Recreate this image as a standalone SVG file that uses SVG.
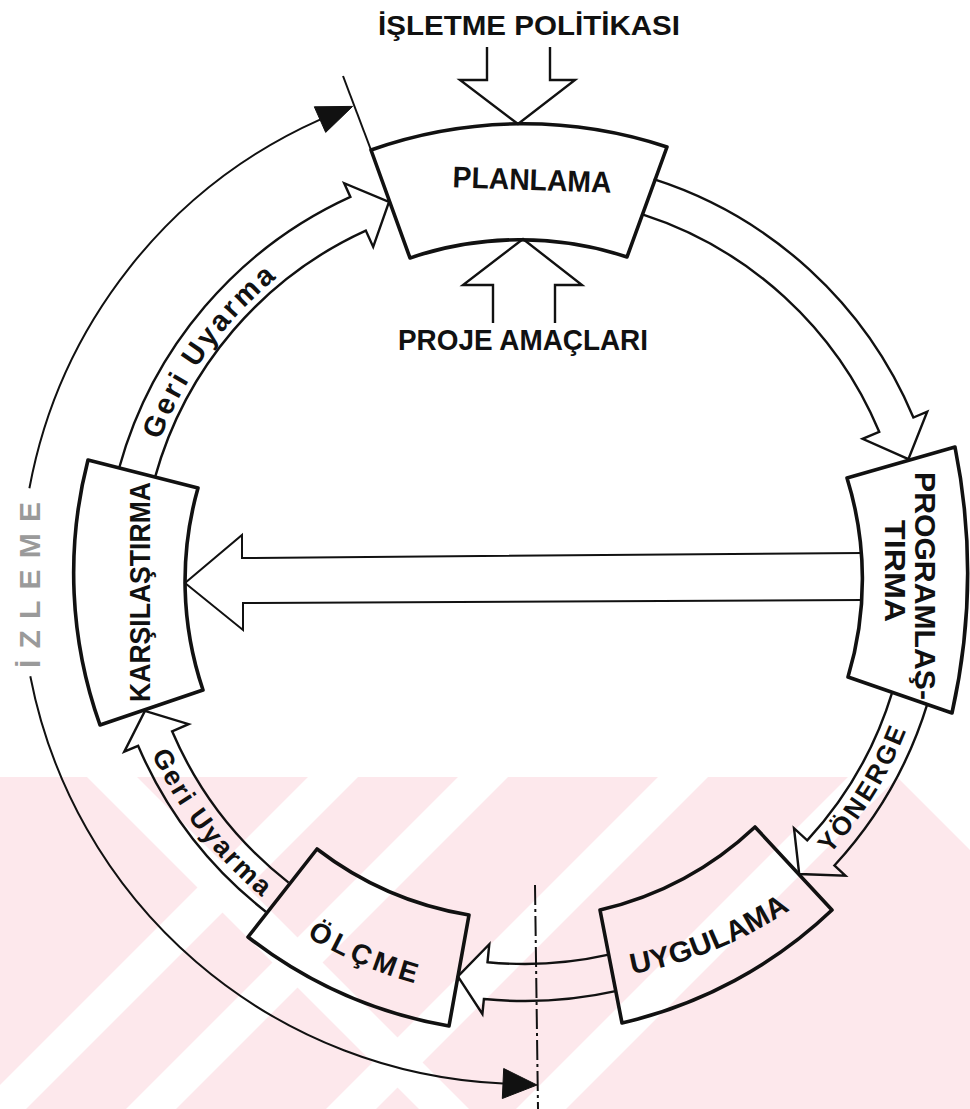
<svg xmlns="http://www.w3.org/2000/svg" width="970" height="1109" viewBox="0 0 970 1109">
  <style>
    .box{fill:none;stroke:#111;stroke-width:3.6;stroke-linejoin:round}
    .band{fill:none;stroke:#111;stroke-width:2.4;stroke-linejoin:miter}
    .thin{fill:none;stroke:#111;stroke-width:2}
    .head{fill:#111;stroke:#111;stroke-width:1}
    .lbl{font-family:"Liberation Sans",Arial,sans-serif;font-weight:bold;fill:#111}
    .faint{fill:#9a9a9a}
    .wm{fill:#fde8ec}
    .gap{fill:#fff}
  </style>
  <defs>
    <!-- baselines for the curved labels, all around the ring centre (525,580) -->
    <path id="arc-geri-top" d="M158.8,443.1 A391,391 0 0 1 289.7,267.7"/>
    <path id="arc-geri-low" d="M151.6,754.1 A412,412 0 0 0 265.7,900.2"/>
    <path id="arc-yonerge" d="M829.7,854.3 A410,410 0 0 0 909,723.6"/>
    <path id="arc-olcme" d="M306.6,936.4 A418,418 0 0 0 423.9,985.6"/>
    <path id="arc-uygulama" d="M632,974 A420,420 0 0 0 800,903"/>
    <clipPath id="wm-clip">
      <polygon points="0,777 897,777 970,850 970,1109 0,1109"/>
    </clipPath>
  </defs>

  <rect width="970" height="1109" fill="#fff"/>

  <!-- pale diagonal stripes across the lower part of the sheet -->
  <g id="watermark" clip-path="url(#wm-clip)">
    <rect class="wm" x="0" y="777" width="970" height="332"/>
    <polygon class="gap" points="308,777 358,777 26,1109 -24,1109"/>
    <polygon class="gap" points="458,777 508,777 176,1109 126,1109"/>
    <polygon class="gap" points="658,777 708,777 376,1109 326,1109"/>
    <polygon class="gap" points="848,777 898,777 566,1109 516,1109"/>
    <polygon class="gap" points="87,777 137,777 469,1109 419,1109"/>
  </g>

  <!-- connectors: ring bands, the cross arrow, the input arrows and the monitoring loop -->
  <g id="connectors">
    <!-- KARŞILAŞTIRMA -> PLANLAMA -->
    <path class="band" d="M119.3,467.5 A421,421 0 0 1 350.4,196.9 L344.2,183.2 L389,202 L373.2,246.9 L365.8,230.6 A384,384 0 0 0 155,477.4"/>
    <!-- PLANLAMA -> PROGRAMLAŞTIRMA -->
    <path class="band" d="M653.7,179.2 A421,421 0 0 1 913.4,417.5 L927.2,411.7 L908.4,459.1 L862.6,438.8 L879.2,431.8 A384,384 0 0 0 642.4,214.4"/>
    <!-- PROGRAMLAŞTIRMA -> UYGULAMA -->
    <path class="band" d="M927.6,703.1 A421,421 0 0 1 834.4,865.5 L845.4,875.7 L799.2,874 L794,828.2 L807.2,840.4 A384,384 0 0 0 892.2,692.3"/>
    <!-- UYGULAMA -> ÖLÇME -->
    <path class="band" d="M616.8,990.9 A421,421 0 0 1 483.9,999 L482.4,1013.9 L457.9,976.4 L489.3,944.2 L487.5,962.2 A384,384 0 0 0 608.8,954.7"/>
    <!-- ÖLÇME -> KARŞILAŞTIRMA -->
    <path class="band" d="M265.8,911.7 A421,421 0 0 1 138.1,745.8 L124.3,751.7 L144.9,710.9 L188.6,724.2 L172.1,731.3 A384,384 0 0 0 288.6,882.6"/>
    <!-- PROGRAMLAŞTIRMA -> KARŞILAŞTIRMA -->
    <path class="thin" d="M863,553 L242,558 L242,535 L185,583 L243,630 L243,603 L863,600"/>
    <!-- input arrows into PLANLAMA -->
    <path class="band" d="M487,47 L487,80 L460,80 L518,124 L575,80 L550,80 L550,47"/>
    <path class="band" d="M493,323 L493,285 L463,285 L523,239 L582,285 L555,285 L555,323"/>
    <!-- monitoring loop -->
    <path class="thin" d="M320,119.6 A504,504 0 0 0 29.4,488.2"/>
    <path class="thin" d="M30.3,676.2 A504,504 0 0 0 503,1083.5"/>
    <polygon class="head" points="314.3,106.8 352.6,106.4 325.7,132.4"/>
    <polygon class="head" points="503.7,1068.5 537,1085 502.3,1098.5"/>
    <line class="thin" x1="343" y1="76" x2="371" y2="150"/>
    <line class="thin" x1="535" y1="885" x2="538" y2="1109" stroke-dasharray="20 4 3 4"/>
  </g>

  <g id="node-planlama">
    <path class="box" d="M371,150 A456,456 0 0 1 667,147 L627,257 A341,341 0 0 0 410,258 Z"/>
    <text class="lbl" x="532" y="190" font-size="30" text-anchor="middle" textLength="159" lengthAdjust="spacingAndGlyphs" transform="rotate(2 532 182)">PLANLAMA</text>
  </g>

  <g id="node-programlastirma">
    <path class="box" d="M847,478 L955,447 A640,640 0 0 1 952,713 L848,677 A340,340 0 0 0 847,478 Z"/>
    <text class="lbl" font-size="30" transform="translate(915,472) rotate(90)" textLength="228" lengthAdjust="spacingAndGlyphs">PROGRAMLAŞ-</text>
    <text class="lbl" font-size="30" transform="translate(885,520) rotate(90)" textLength="102" lengthAdjust="spacingAndGlyphs">TIRMA</text>
  </g>

  <g id="node-uygulama">
    <path class="box" d="M600,910 A338,338 0 0 0 755,827 L832,910 A452,452 0 0 1 622,1023 Z"/>
    <text class="lbl" font-size="29"><textPath href="#arc-uygulama" textLength="172" lengthAdjust="spacingAndGlyphs">UYGULAMA</textPath></text>
  </g>

  <g id="node-olcme">
    <path class="box" d="M317,849 A340,340 0 0 0 469,915 L449,1026 A452,452 0 0 1 248,937 Z"/>
    <text class="lbl" font-size="28"><textPath href="#arc-olcme" textLength="118" lengthAdjust="spacing">ÖLÇME</textPath></text>
  </g>

  <g id="node-karsilastirma">
    <path class="box" d="M88,460 L198,488 A340,340 0 0 0 203,690 L100,725 A452,452 0 0 1 88,460 Z"/>
    <text class="lbl" font-size="29" transform="translate(150,702) rotate(-90)" textLength="220" lengthAdjust="spacingAndGlyphs">KARŞILAŞTIRMA</text>
  </g>

  <g id="label-isletme-politikasi">
    <text class="lbl" x="378" y="35" font-size="28" textLength="302" lengthAdjust="spacingAndGlyphs">İŞLETME POLİTİKASI</text>
  </g>
  <g id="label-proje-amaclari">
    <text class="lbl" x="398" y="350" font-size="30" textLength="250" lengthAdjust="spacingAndGlyphs">PROJE AMAÇLARI</text>
  </g>

  <g id="label-geri-uyarma-top">
    <text class="lbl" font-size="29"><textPath href="#arc-geri-top" startOffset="3" textLength="202" lengthAdjust="spacing">Geri Uyarma</textPath></text>
  </g>
  <g id="label-geri-uyarma-low">
    <text class="lbl" font-size="27"><textPath href="#arc-geri-low" textLength="182" lengthAdjust="spacing">Geri Uyarma</textPath></text>
  </g>
  <g id="label-yonerge">
    <text class="lbl" font-size="26"><textPath href="#arc-yonerge" textLength="146" lengthAdjust="spacing">YÖNERGE</textPath></text>
  </g>
  <g id="label-izleme">
    <text class="lbl faint" font-size="30" transform="translate(40,668) rotate(-90)" textLength="166" lengthAdjust="spacing">İZLEME</text>
  </g>
</svg>
